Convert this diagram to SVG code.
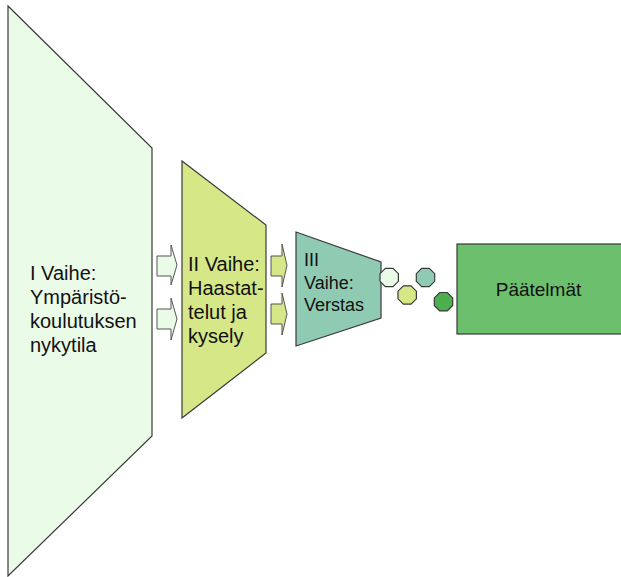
<svg xmlns="http://www.w3.org/2000/svg" width="621" height="577" viewBox="0 0 621 577">
<defs>
<style>
.shape{stroke:#3a3a3a;stroke-width:1.2;stroke-linejoin:miter}
.arr{stroke:#555;stroke-width:1}
.t{font-family:"Liberation Sans",Arial,sans-serif;fill:#111}
.mint{fill:#EAFBE8}
.lime{fill:#D6E788}
.teal{fill:#8FCBB3}
.green{fill:#6CBF6D}
.dark{fill:#4DAE50}
</style>
<polygon id="oct" points="-3.8,-9.2 3.8,-9.2 9.2,-3.8 9.2,3.8 3.8,9.2 -3.8,9.2 -9.2,3.8 -9.2,-3.8"/>
</defs>
<rect width="621" height="577" fill="#fff"/>
<g id="phase1">
<polygon class="shape mint" points="8,6 152,148 152,436 8,576"/>
<text class="t" font-size="20"><tspan x="30" y="280">I Vaihe:</tspan><tspan x="30" y="304">Ympäristö-</tspan><tspan x="30" y="328">koulutuksen</tspan><tspan x="30" y="352">nykytila</tspan></text>
</g>
<g id="phase2">
<polygon class="shape lime" points="182,161 266,225 266,353 182,418"/>
<text class="t" font-size="20"><tspan x="188" y="271">II Vaihe:</tspan><tspan x="188" y="295">Haastat-</tspan><tspan x="188" y="319">telut ja</tspan><tspan x="188" y="343">kysely</tspan></text>
</g>
<g id="phase3">
<polygon class="shape teal" points="296,232 381,262 381,318 296,346"/>
<text class="t" font-size="18"><tspan x="304" y="266">III</tspan><tspan x="304" y="288.5">Vaihe:</tspan><tspan x="304" y="311">Verstas</tspan></text>
</g>
<g id="conclusions">
<rect class="shape green" x="457" y="244" width="180" height="90"/>
<text class="t" font-size="19" x="538.5" y="296" text-anchor="middle">Päätelmät</text>
</g>
<g id="connectors">
<polygon class="arr mint" points="157,256 171,256 171,245 177,265 171,285 171,276 157,276"/>
<polygon class="arr mint" points="157,309 171,309 171,298 177,319 171,340 171,329 157,329"/>
<polygon class="arr lime" points="271,256 282,256 282,244 287,265.5 282,287 282,276 271,276"/>
<polygon class="arr lime" points="271,304 282,304 282,293 287,314 282,335 282,324 271,324"/>
<use href="#oct" class="shape mint" x="389.2" y="277.5"/>
<use href="#oct" class="shape lime" x="407.2" y="295"/>
<use href="#oct" class="shape teal" x="425.5" y="277.5"/>
<use href="#oct" class="shape dark" x="443.5" y="301.7"/>
</g>
</svg>
